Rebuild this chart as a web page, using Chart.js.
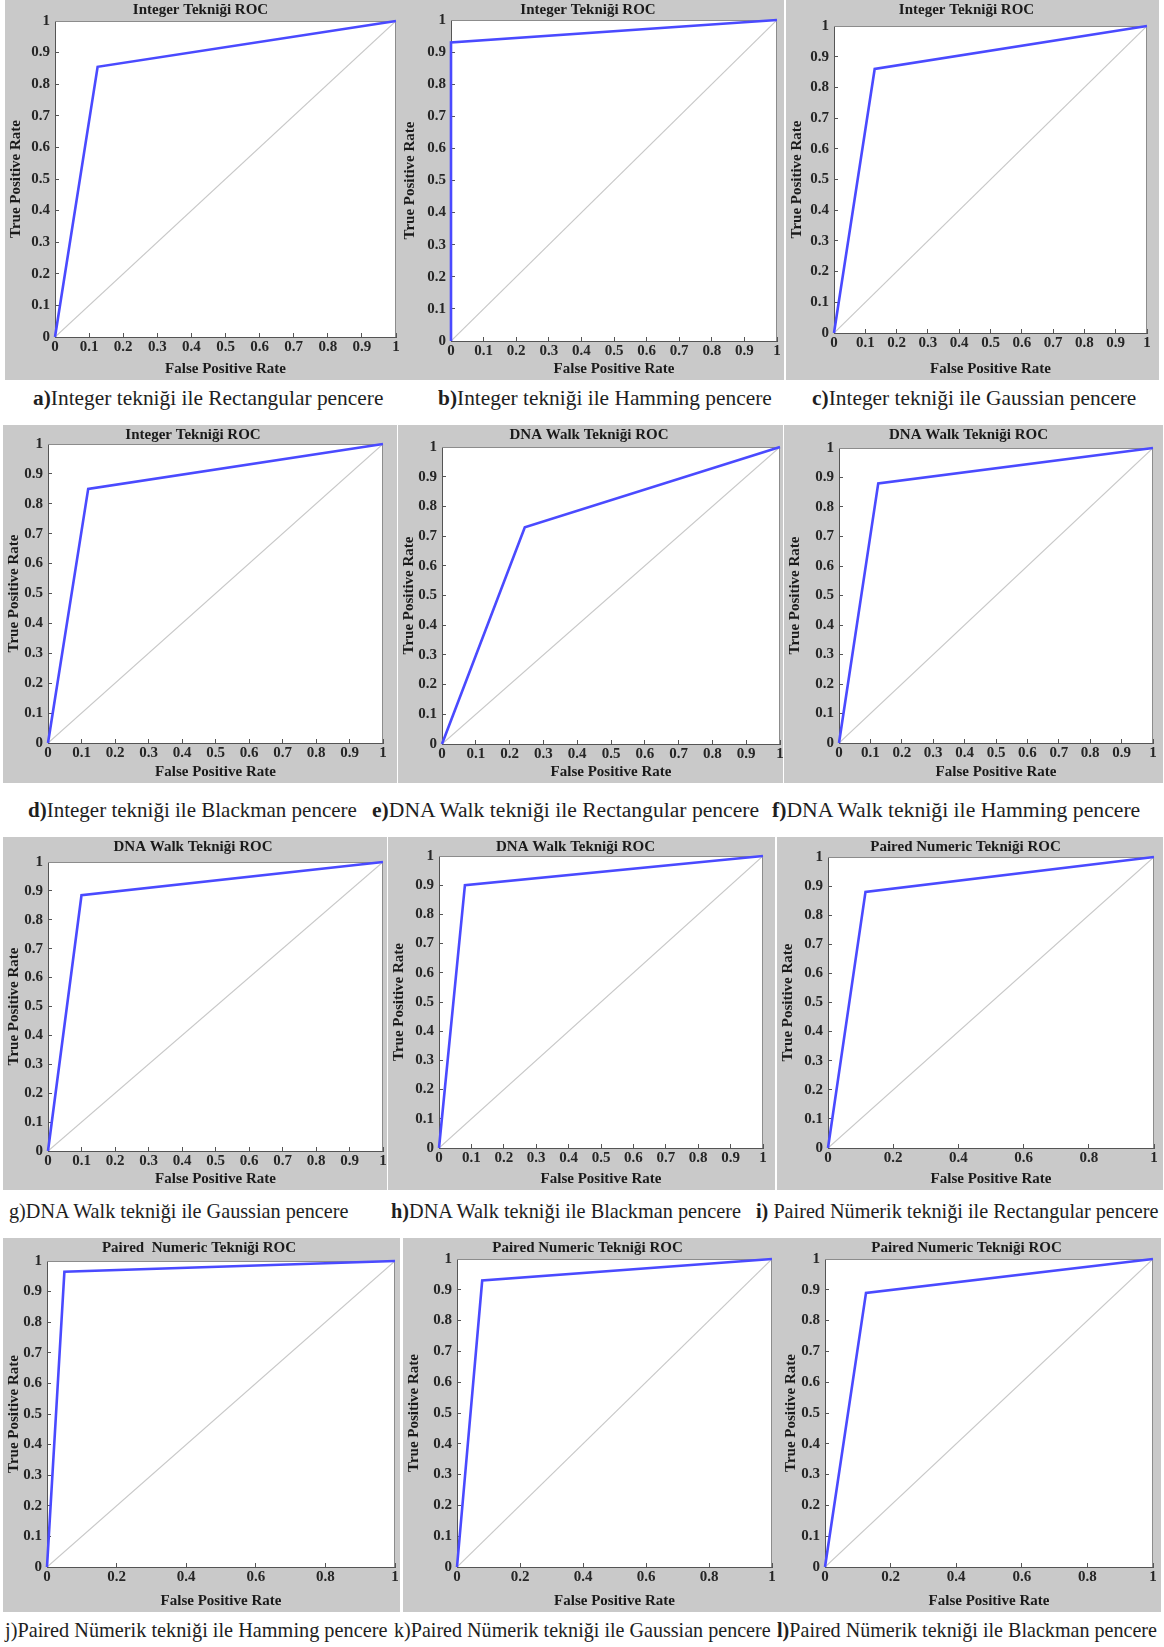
<!DOCTYPE html>
<html>
<head>
<meta charset="utf-8">
<title>ROC eğrileri</title>
<script src="https://cdn.jsdelivr.net/npm/chart.js@4.4.1/dist/chart.umd.min.js"></script>
<style>
  body{ margin:0; background:#fff; }
  #page{ position:relative; width:1164px; height:1647px; overflow:hidden; }
  canvas.roc{ position:absolute; background:#c9c9c9; }
  .cap{
    position:absolute; white-space:nowrap; color:#1e1e1e;
    font-family:"Liberation Serif","DejaVu Serif",serif; line-height:24px;
    transform:translateY(-50%);
  }
</style>
</head>
<body>
<div id="page"></div>

<script>
// ================= DATA =================
const tenthTicks = [0, 0.1, 0.2, 0.3, 0.4, 0.5, 0.6, 0.7, 0.8, 0.9, 1];
const fifthTicks = [0, 0.2, 0.4, 0.6, 0.8, 1];

const diagFpr = [0, 1];
const diagTpr = [0, 1];

const fprA = [0, 0.125, 1];  const tprA = [0, 0.855, 1];
const fprB = [0, 0, 1];      const tprB = [0, 0.93, 1];
const fprC = [0, 0.13, 1];   const tprC = [0, 0.86, 1];
const fprD = [0, 0.12, 1];   const tprD = [0, 0.85, 1];
const fprE = [0, 0.245, 1];  const tprE = [0, 0.73, 1];
const fprF = [0, 0.125, 1];  const tprF = [0, 0.88, 1];
const fprG = [0, 0.1, 1];    const tprG = [0, 0.885, 1];
const fprH = [0, 0.08, 1];   const tprH = [0, 0.9, 1];
const fprI = [0, 0.115, 1];  const tprI = [0, 0.88, 1];
const fprJ = [0, 0.05, 1];   const tprJ = [0, 0.965, 1];
const fprK = [0, 0.08, 1];   const tprK = [0, 0.93, 1];
const fprL = [0, 0.125, 1];  const tprL = [0, 0.89, 1];

const rocFpr = [fprA, fprB, fprC, fprD, fprE, fprF, fprG, fprH, fprI, fprJ, fprK, fprL];
const rocTpr = [tprA, tprB, tprC, tprD, tprE, tprF, tprG, tprH, tprI, tprJ, tprK, tprL];

const panelTitles = [
  "Integer Tekniği ROC", "Integer Tekniği ROC", "Integer Tekniği ROC",
  "Integer Tekniği ROC", "DNA Walk Tekniği ROC", "DNA Walk Tekniği ROC",
  "DNA Walk Tekniği ROC", "DNA Walk Tekniği ROC", "Paired Numeric Tekniği ROC",
  "Paired  Numeric Tekniği ROC", "Paired Numeric Tekniği ROC", "Paired Numeric Tekniği ROC"
];

const captionTags = ["a)", "b)", "c)", "d)", "e)", "f)", "g)", "h)", "i)", "j)", "k)", "l)"];
const captionTexts = [
  "Integer tekniği ile Rectangular pencere",
  "Integer tekniği ile Hamming pencere",
  "Integer tekniği ile Gaussian pencere",
  "Integer tekniği ile Blackman pencere",
  "DNA Walk tekniği ile Rectangular pencere",
  "DNA Walk tekniği ile Hamming pencere",
  "DNA Walk tekniği ile Gaussian pencere",
  "DNA Walk tekniği ile Blackman pencere",
  " Paired Nümerik tekniği ile Rectangular pencere",
  "Paired Nümerik tekniği ile Hamming pencere",
  "Paired Nümerik tekniği ile Gaussian pencere",
  "Paired Nümerik tekniği ile Blackman pencere"
];
const captionBold = [true, true, true, true, true, true, false, true, true, false, false, true];

const xTickSets = [
  tenthTicks, tenthTicks, tenthTicks, tenthTicks, tenthTicks, tenthTicks,
  tenthTicks, tenthTicks, fifthTicks, fifthTicks, fifthTicks, fifthTicks
];


// ================= LAYOUT =================
// gray box: x, y, w, h
const boxes = [
  [5, 0, 394, 380],    [399, 0, 385, 380],    [786, 0, 373, 380],
  [3, 425, 394, 358],  [398, 425, 385, 358],  [784, 425, 379, 358],
  [3, 837, 384, 353],  [388, 837, 387, 353],  [777, 837, 386, 353],
  [3, 1238, 397, 374], [403, 1238, 377, 374], [780, 1238, 381, 374]
];

// white plot area: left, top, right, bottom
const plots = [
  [55, 21, 396, 337],    [451, 20, 777, 341],    [834, 26, 1147, 333],
  [48, 444, 383, 743],   [442, 447, 780, 744],   [839, 448, 1153, 743],
  [48, 862, 383, 1151],  [439, 856, 763, 1148],  [828, 857, 1154, 1148],
  [47, 1261, 395, 1567], [457, 1259, 772, 1567], [825, 1259, 1153, 1567]
];

// caption left x, center y, font size
const capPos = [
  [33, 398], [438, 398], [812, 398],
  [28, 810], [372, 810], [772, 810],
  [9, 1211], [391, 1211], [756, 1211],
  [5, 1630], [394, 1630], [777, 1630]
];
const capSize = [21.4, 21.4, 21.4, 21.0, 21.6, 21.7, 20.2, 20.3, 20.2, 20.3, 20.1, 20.1];

const SERIF = '"Liberation Serif", "DejaVu Serif", serif';
Chart.defaults.font.family = SERIF;


// ================= PLUGINS =================
const plotFrame = {
  id: "plotFrame",
  beforeDraw(chart){
    const {ctx, chartArea: a} = chart;
    ctx.save();
    ctx.fillStyle = "#ffffff";
    ctx.fillRect(a.left, a.top, a.width, a.height);
    ctx.restore();
  },
  beforeDatasetsDraw(chart){
    const {ctx, chartArea: a} = chart;
    ctx.save();
    ctx.strokeStyle = "#8c8c8c";
    ctx.lineWidth = 1;
    ctx.beginPath();
    ctx.moveTo(a.left, a.top + 0.5);
    ctx.lineTo(a.right - 0.5, a.top + 0.5);
    ctx.lineTo(a.right - 0.5, a.bottom);
    ctx.stroke();
    ctx.restore();
  }
};


// ================= CHARTS =================
function toPoints(xs, ys){
  return xs.map((x, i) => ({ x: x, y: ys[i] }));
}

function makePanel(i){

  const page = document.getElementById("page");
  const [bx, by, bw, bh] = boxes[i];
  const [pl, pt, pr, pb] = plots[i];

  const cv = document.createElement("canvas");
  cv.className = "roc";
  cv.width = bw;
  cv.height = bh;
  cv.style.left = bx + "px";
  cv.style.top = by + "px";
  page.appendChild(cv);

  const tickFont = { family: SERIF, size: 15, weight: "bold" };
  const labelFont = { family: SERIF, size: 15, weight: "bold", lineHeight: 1 };
  const xTicks = xTickSets[i];

  new Chart(cv, {
    type: "line",
    data: {
      datasets: [
        {
          data: toPoints(rocFpr[i], rocTpr[i]),
          borderColor: "#4a4aff",
          borderWidth: 2.6,
          pointRadius: 0,
          tension: 0,
          clip: 4,
          order: 0
        },
        {
          data: toPoints(diagFpr, diagTpr),
          borderColor: "#c8c8c8",
          borderWidth: 1.2,
          pointRadius: 0,
          tension: 0,
          order: 1
        }
      ]
    },
    options: {
      responsive: false,
      animation: false,
      events: [],
      layout: { padding: { left: 0, top: 0, bottom: 0, right: bx + bw - pr } },
      plugins: {
        legend: { display: false },
        tooltip: { enabled: false },
        title: {
          display: true,
          text: panelTitles[i],
          color: "#1a1a1a",
          font: labelFont,
          padding: { top: 2.5, bottom: pt - by - 17.5 }
        }
      },
      scales: {
        x: {
          type: "linear",
          min: 0,
          max: 1,
          afterBuildTicks: s => { s.ticks = xTicks.map(v => ({ value: v })); },
          afterFit: s => {
            s.height = by + bh - pb;
            s.paddingLeft = 0;
            s.paddingRight = 0;
          },
          grid: { drawOnChartArea: false, drawTicks: true, tickLength: -4, color: "#555" },
          border: { color: "#555", width: 1 },
          ticks: {
            padding: 5, color: "#262626", font: tickFont,
            maxRotation: 0, autoSkip: false,
            callback: v => String(v)
          },
          title: {
            display: true,
            text: "False Positive Rate",
            color: "#1a1a1a",
            font: labelFont,
            padding: { top: 0, bottom: 3.5 }
          }
        },
        y: {
          type: "linear",
          min: 0,
          max: 1,
          afterBuildTicks: s => { s.ticks = tenthTicks.map(v => ({ value: v })); },
          afterFit: s => {
            s.width = pl - bx;
            s.paddingTop = 0;
            s.paddingBottom = 0;
          },
          grid: { drawOnChartArea: false, drawTicks: true, tickLength: -4, color: "#555" },
          border: { color: "#555", width: 1 },
          ticks: {
            padding: 9, color: "#262626", font: tickFont,
            autoSkip: false,
            callback: v => String(v)
          },
          title: {
            display: true,
            text: "True Positive Rate",
            color: "#1a1a1a",
            font: labelFont,
            padding: { top: 3.5, bottom: 0 }
          }
        }
      }
    },
    plugins: [plotFrame]
  });

  // caption under the panel
  const cap = document.createElement("div");
  cap.className = "cap";
  cap.style.left = capPos[i][0] + "px";
  cap.style.top = capPos[i][1] + "px";
  cap.style.fontSize = capSize[i] + "px";
  const tag = document.createElement(captionBold[i] ? "b" : "span");
  tag.textContent = captionTags[i];
  cap.appendChild(tag);
  cap.appendChild(document.createTextNode(captionTexts[i]));
  page.appendChild(cap);
}

for(let i = 0; i < boxes.length; i++){
  makePanel(i);
}
</script>
</body>
</html>
